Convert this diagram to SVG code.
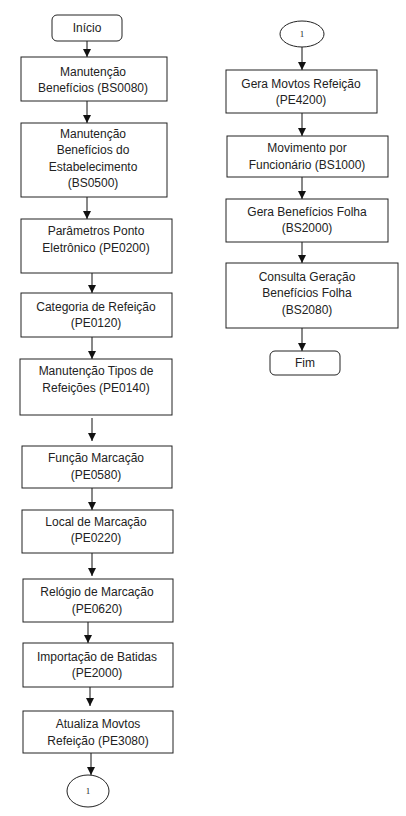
<svg xmlns="http://www.w3.org/2000/svg" width="406" height="816" viewBox="0 0 406 816">
<style>
.box{fill:#fff;stroke:#222;stroke-width:1}
.t{font-family:"Liberation Sans",Arial,sans-serif;font-size:12px;fill:#222;text-anchor:middle}
.n{font-family:"Liberation Serif","Times New Roman",serif;font-size:9px;fill:#222;text-anchor:middle}
.c{stroke:#111;stroke-width:1;fill:none;marker-end:url(#ah)}
</style>
<defs>
<marker id="ah" viewBox="0 0 8 8" refX="8" refY="4" markerWidth="8" markerHeight="8" markerUnits="userSpaceOnUse" orient="auto">
<path d="M0,0 L8,4 L0,8 z" fill="#111"/>
</marker>
</defs>
<rect width="406" height="816" fill="#fff"/>
<g id="connectors">
<line class="c" x1="87" y1="41" x2="87" y2="57"/>
<line class="c" x1="87" y1="101" x2="87" y2="123"/>
<line class="c" x1="87" y1="197" x2="87" y2="219"/>
<line class="c" x1="92" y1="273" x2="92" y2="293"/>
<line class="c" x1="92" y1="337" x2="92" y2="359"/>
<line class="c" x1="92" y1="418" x2="92" y2="441"/>
<line class="c" x1="92" y1="488" x2="92" y2="510"/>
<line class="c" x1="92" y1="553" x2="92" y2="576"/>
<line class="c" x1="88" y1="622" x2="88" y2="643"/>
<line class="c" x1="90" y1="687" x2="90" y2="706"/>
<line class="c" x1="91" y1="753" x2="91" y2="775"/>
<line class="c" x1="302" y1="47" x2="302" y2="70"/>
<line class="c" x1="302" y1="113" x2="302" y2="136"/>
<line class="c" x1="302" y1="177" x2="302" y2="199"/>
<line class="c" x1="302" y1="242" x2="302" y2="263"/>
<line class="c" x1="302" y1="328" x2="302" y2="351"/>
</g>
<g id="inicio"><rect class="box" x="52" y="15" width="70" height="26" rx="5"/><text class="t" x="87" y="32">Início</text></g>
<g id="bs0080"><rect class="box" x="21" y="57" width="146" height="44"/><text class="t" x="93" y="76">Manutenção</text><text class="t" x="93" y="92">Benefícios (BS0080)</text></g>
<g id="bs0500"><rect class="box" x="21" y="123" width="146" height="74"/><text class="t" x="93" y="138">Manutenção</text><text class="t" x="93" y="154">Benefícios do</text><text class="t" x="93" y="171">Estabelecimento</text><text class="t" x="93" y="187">(BS0500)</text></g>
<g id="pe0200"><rect class="box" x="21" y="219" width="151" height="54"/><text class="t" x="96" y="235">Parâmetros Ponto</text><text class="t" x="96" y="252">Eletrônico (PE0200)</text></g>
<g id="pe0120"><rect class="box" x="21" y="293" width="151" height="44"/><text class="t" x="96" y="311">Categoria de Refeição</text><text class="t" x="96" y="327">(PE0120)</text></g>
<g id="pe0140"><rect class="box" x="20" y="359" width="152" height="56"/><text class="t" x="96" y="375">Manutenção Tipos de</text><text class="t" x="96" y="392">Refeições (PE0140)</text></g>
<g id="pe0580"><rect class="box" x="22" y="446" width="150" height="42"/><text class="t" x="96" y="462">Função Marcação</text><text class="t" x="96" y="479">(PE0580)</text></g>
<g id="pe0220"><rect class="box" x="22" y="510" width="151" height="43"/><text class="t" x="96" y="526">Local de Marcação</text><text class="t" x="96" y="542">(PE0220)</text></g>
<g id="pe0620"><rect class="box" x="23" y="579" width="150" height="43"/><text class="t" x="97" y="596">Relógio de Marcação</text><text class="t" x="97" y="613">(PE0620)</text></g>
<g id="pe2000"><rect class="box" x="23" y="643" width="150" height="44"/><text class="t" x="97" y="661">Importação de Batidas</text><text class="t" x="97" y="677">(PE2000)</text></g>
<g id="pe3080"><rect class="box" x="23" y="711" width="150" height="42"/><text class="t" x="98" y="728">Atualiza Movtos</text><text class="t" x="98" y="745">Refeição (PE3080)</text></g>
<g id="conn-out"><ellipse class="box" cx="88" cy="791" rx="21" ry="16"/><text class="n" x="88" y="794">1</text></g>
<g id="conn-in"><ellipse class="box" cx="302" cy="34" rx="22" ry="13"/><text class="n" x="302" y="37">1</text></g>
<g id="pe4200"><rect class="box" x="226" y="70" width="151" height="43"/><text class="t" x="301" y="88">Gera Movtos Refeição</text><text class="t" x="301" y="104">(PE4200)</text></g>
<g id="bs1000"><rect class="box" x="227" y="136" width="161" height="41"/><text class="t" x="307" y="152">Movimento por</text><text class="t" x="307" y="169">Funcionário (BS1000)</text></g>
<g id="bs2000"><rect class="box" x="226" y="199" width="162" height="43"/><text class="t" x="307" y="216">Gera Benefícios Folha</text><text class="t" x="307" y="232">(BS2000)</text></g>
<g id="bs2080"><rect class="box" x="226" y="263" width="172" height="65"/><text class="t" x="307" y="281">Consulta Geração</text><text class="t" x="307" y="297">Benefícios Folha</text><text class="t" x="307" y="314">(BS2080)</text></g>
<g id="fim"><rect class="box" x="270" y="351" width="70" height="24" rx="5"/><text class="t" x="305" y="367">Fim</text></g>
</svg>
